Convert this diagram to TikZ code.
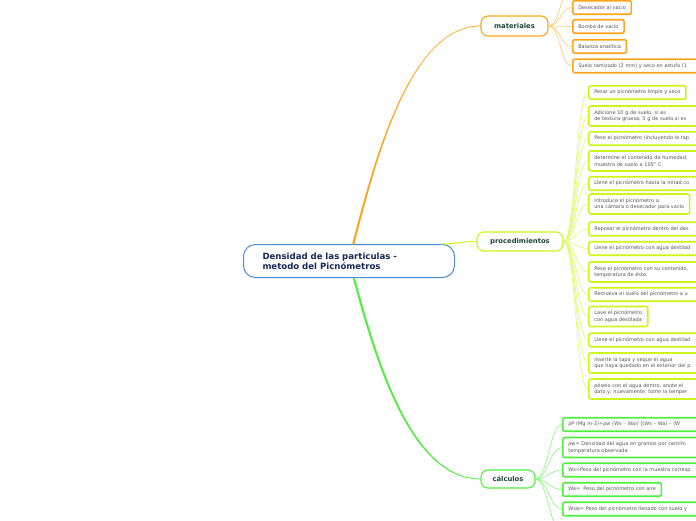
\documentclass[tikz,border=0pt]{standalone}
\usepackage{fontspec}
\setmainfont{DejaVu Sans}
\usetikzlibrary{calc}
\definecolor{corange}{HTML}{FFA31A}
\definecolor{cyg}{HTML}{CCF51A}
\definecolor{cgreen}{HTML}{4DF03A}
\definecolor{cblue}{HTML}{4A90D0}
\definecolor{navy}{HTML}{14285A}
\definecolor{headtxt}{HTML}{1E4638}
\definecolor{leaftxt}{HTML}{555555}
\begin{document}
\begin{tikzpicture}[x=1pt,y=-1pt,
  leaf/.style={draw, line width=1.6pt, rounded corners=2pt, fill=white, anchor=west, align=left,
    inner xsep=5.5pt, inner ysep=0pt, text=leaftxt, font=\fontsize{5}{6.6}\selectfont, minimum height=13.5pt},
  leaftwo/.style={leaf, minimum height=20pt},
  trunc/.style={text width=150pt},
  head/.style={draw, line width=1.1pt, rounded corners=7pt, fill=white,
    font=\bfseries\fontsize{6.8}{8}\selectfont, text=headtxt, inner sep=0pt},
  oleaf/.style={leaf, draw=corange},
  yleaf/.style={leaf, draw=cyg},
  yleaftwo/.style={leaftwo, draw=cyg},
  gleaf/.style={leaf, draw=cgreen},
  gleaftwo/.style={leaftwo, draw=cgreen},
  olink/.style={draw=corange!55, line width=0.7pt},
  ylink/.style={draw=cyg!60, line width=0.7pt},
  glink/.style={draw=cgreen!60, line width=0.7pt}]
\useasboundingbox (0,0) rectangle (696,520);
\clip (0,0) rectangle (696,520);

% central node
\node[draw=cblue, line width=1pt, fill=white, rounded corners=12pt, anchor=north west,
  minimum width=211pt, minimum height=33pt,
  text width=173pt, inner xsep=19pt, inner ysep=0pt, align=left,
  font=\bfseries\fontsize{8.6}{10}\selectfont, text=navy] (c) at (243,244)
  {Densidad de las particulas -\\metodo del Picnómetros};

% heads
\node[head, draw=corange, minimum width=67pt, minimum height=20pt] (mat) at (514.5,26) {materiales};
\node[head, draw=cyg, minimum width=86pt, minimum height=19pt] (proc) at (520,241.5) {procedimientos};
\node[head, draw=cgreen, minimum width=54pt, minimum height=18pt] (calc) at (508,479) {cálculos};

% main branches
\fill[corange] ($(c.north west)+(109.2,0)$) .. controls (374,160) and (410,25.6) .. ($(mat.west)+(0,-0.4)$)
  -- ($(mat.west)+(0,0.4)$) .. controls (410,26.4) and (376,160) .. ($(c.north west)+(111.4,0)$) -- cycle;
\fill[cgreen] ($(c.south west)+(109.8,0)$) .. controls (375,360) and (410,479.4) .. ($(calc.west)+(0,0.4)$)
  -- ($(calc.west)+(0,-0.4)$) .. controls (412,478.6) and (377,360) .. ($(c.south west)+(112,0)$) -- cycle;
\draw[cyg, line width=1pt] ($(c.north east)+(-14,0)$) .. controls +(15,0) and +(-15,0) .. (proc.west);

% materiales leaves
\coordinate (m0) at (572,-12);
\node[oleaf] (m1) at (572,7.5) {Desecador al vacío};
\node[oleaf] (m2) at (572,26.5) {Bomba de vacío};
\node[oleaf] (m3) at (572,46.5) {Balanza analítica};
\node[oleaf, trunc] (m4) at (572,66) {Suelo tamizado (2 mm) y seco en estufa (1};
\foreach \n in {m0,m1,m2,m3,m4}
  \draw[olink] (mat.east) .. controls +(12,0) and +(-12,0) .. (\n.west);

% procedimientos leaves
\node[yleaf] (p1) at (588,92.5) {Pesar un picnómetro limpio y seco};
\node[yleaftwo, trunc] (p2) at (588,116) {Adicione 10 g de suelo, si es\\de textura gruesa, 5 g de suelo,si es};
\node[yleaf, trunc] (p3) at (588,138.5) {Pese el picnómetro (incluyendo la tap};
\node[yleaftwo, trunc] (p4) at (588,161) {determine el contenido de humedad,\\muestra de suelo a 105° C.};
\node[yleaf, trunc] (p5) at (588,183.5) {Llene el picnómetro hasta la mitad co};
\node[yleaftwo] (p6) at (588,204) {Introduce el picnómetro a\\una cámara o desecador para vacío};
\node[yleaf, trunc] (p7) at (588,229) {Reposar el picnómetro dentro del des};
\node[yleaf, trunc] (p8) at (588,248.5) {Llene el picnómetro con agua destilad};
\node[yleaftwo, trunc] (p9) at (588,272) {Pese el picnómetro con su contenido,\\temperatura de éste.};
\node[yleaf, trunc] (p10) at (588,294.5) {Remueva el suelo del picnómetro a u};
\node[yleaftwo] (p11) at (588,316.5) {Lave el picnómetro\\con agua destilada};
\node[yleaf, trunc] (p12) at (588,340) {Llene el picnómetro con agua destilad};
\node[yleaftwo, trunc] (p13) at (588,363) {inserte la tapa y seque el agua\\que haya quedado en el exterior del p};
\node[yleaftwo, trunc] (p14) at (588,389) {péselo con el agua dentro, anote el\\dato y, nuevamente, tome la temper};
\foreach \n in {p1,p2,p3,p4,p5,p6,p7,p8,p9,p10,p11,p12,p13,p14}
  \draw[ylink] (proc.east) .. controls +(12,0) and +(-12,0) .. (\n.west);

% calculos leaves
\node[gleaf, trunc] (k1) at (562,424.5) {ρP (Mg m-3)=ρw (Ws – Wa)/ [(Ws – Wa) – (W};
\node[gleaftwo, trunc] (k2) at (562,447.5) {ρw= Densidad del agua en gramos por centím\\temperatura observada};
\node[gleaf, trunc] (k3) at (562,470) {Ws=Peso del picnómetro con la muestra corresp};
\node[gleaf] (k4) at (562,489.5) {Wa=\ \ Peso del picnómetro con aire};
\node[gleaf, trunc] (k5) at (562,509) {Wsw= Peso del picnómetro llenado con suelo y};
\coordinate (k6) at (562,532);
\foreach \n in {k1,k2,k3,k4,k5,k6}
  \draw[glink] (calc.east) .. controls +(12,0) and +(-12,0) .. (\n.west);
\end{tikzpicture}
\end{document}
